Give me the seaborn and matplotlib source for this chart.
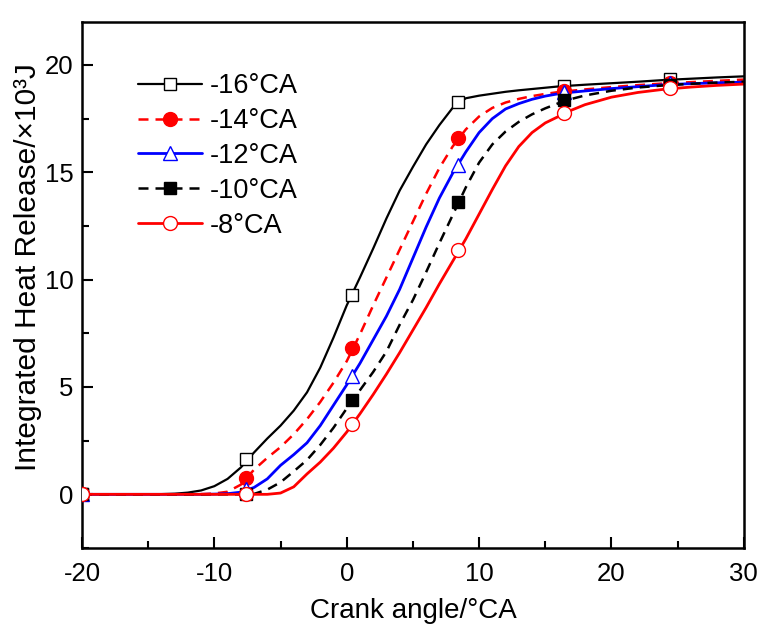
import matplotlib
matplotlib.use("Agg")
import matplotlib.pyplot as plt
from matplotlib.lines import Line2D
from matplotlib.ticker import MultipleLocator
import seaborn as sns
import pandas as pd

# ---------------- data ----------------
crank = [-20, -17, -14, -13, -12, -11, -10, -9, -8, -7, -6, -5, -4, -3, -2, -1,
         0, 1, 2, 3, 4, 5, 6, 7, 8, 9, 10, 11, 12, 13, 14, 15, 16, 17, 18,
         20, 22, 24, 26, 28, 30]

hr_m16 = [0, 0, 0.01, 0.03, 0.08, 0.18, 0.38, 0.72, 1.25, 1.95, 2.6, 3.2, 3.9, 4.75, 5.9, 7.3,
          8.8, 10.1, 11.45, 12.85, 14.15, 15.25, 16.3, 17.2, 18.0, 18.45, 18.57, 18.66, 18.75, 18.82, 18.88, 18.94, 19.0, 19.04, 19.08,
          19.15, 19.22, 19.3, 19.36, 19.42, 19.47]
hr_m14 = [0, 0, 0, 0, 0, 0.01, 0.04, 0.12, 0.45, 1.15, 1.7, 2.2, 2.8, 3.5, 4.3, 5.2,
          6.2, 7.45, 8.8, 10.1, 11.4, 12.7, 14.0, 15.2, 16.2, 17.0, 17.6, 18.0, 18.25, 18.42, 18.55, 18.65, 18.74, 18.8, 18.86,
          18.97, 19.06, 19.14, 19.2, 19.26, 19.32]
hr_m12 = [0, 0, 0, 0, 0, 0, 0.01, 0.03, 0.1, 0.32, 0.72, 1.35, 1.85, 2.4, 3.2, 4.15,
          5.1, 6.1, 7.2, 8.3, 9.55, 11.0, 12.45, 13.8, 14.95, 15.95, 16.85, 17.5, 17.95, 18.2, 18.4, 18.55, 18.66, 18.73, 18.79,
          18.9, 18.99, 19.08, 19.13, 19.17, 19.2]
hr_m10 = [0, 0, 0, 0, 0, 0, 0, 0, 0, 0.02, 0.22, 0.56, 1.07, 1.6, 2.3, 3.1,
          4.0, 4.85, 5.7, 6.65, 7.9, 9.05, 10.35, 11.7, 13.0, 14.3, 15.45, 16.3, 16.9, 17.35, 17.7, 17.98, 18.22, 18.42, 18.58,
          18.8, 18.95, 19.05, 19.12, 19.18, 19.22]
hr_m8 = [0, 0, 0, 0, 0, 0, 0, 0, 0, 0, 0, 0.06, 0.35, 0.95, 1.5, 2.15,
         2.9, 3.75, 4.65, 5.6, 6.6, 7.65, 8.7, 9.8, 10.85, 11.9, 13.05, 14.2, 15.3, 16.2, 16.85, 17.3, 17.6, 17.9, 18.15,
         18.5, 18.72, 18.87, 18.97, 19.05, 19.11]

# marker (symbol) positions
mark_x = [-20, -7.6, 0.4, 8.4, 16.4, 24.4]
mark_m16 = [0, 1.63, 9.3, 18.27, 19.03, 19.35]
mark_m14 = [0, 0.78, 6.81, 16.6, 18.8, 19.15]
mark_m12 = [0, 0.25, 5.5, 15.33, 18.72, 19.15]
mark_m10 = [0, 0.0, 4.38, 13.63, 18.38, 19.05]
mark_m8 = [0, 0.0, 3.26, 11.36, 17.75, 18.93]

labels = ["-16°CA", "-14°CA", "-12°CA", "-10°CA", "-8°CA"]
curves = [hr_m16, hr_m14, hr_m12, hr_m10, hr_m8]
marks = [mark_m16, mark_m14, mark_m12, mark_m10, mark_m8]

x_ticks = [-20, -10, 0, 10, 20, 30]
y_ticks = [0, 5, 10, 15, 20]

# ---------------- styling ----------------
sns.set_style("ticks")
plt.rcParams["font.family"] = ["Liberation Sans", "DejaVu Sans"]
plt.rcParams["axes.unicode_minus"] = False
plt.rcParams["text.color"] = "black"
plt.rcParams["axes.labelcolor"] = "black"
plt.rcParams["xtick.color"] = "black"
plt.rcParams["ytick.color"] = "black"

dash = (0, (4, 2.8))
styles = [
    dict(color="#000000", ls="-", lw=1.6, marker="s", mfc="white", mec="#000000", ms=8),
    dict(color="#ff0000", ls=dash, lw=1.8, marker="o", mfc="#ff0000", mec="#ff0000", ms=10),
    dict(color="#0000ff", ls="-", lw=2.0, marker="^", mfc="white", mec="#0000ff", ms=10),
    dict(color="#000000", ls=dash, lw=1.8, marker="s", mfc="#000000", mec="#000000", ms=8),
    dict(color="#ff0000", ls="-", lw=2.0, marker="o", mfc="white", mec="#ff0000", ms=10),
]

fig = plt.figure(figsize=(7.59, 6.26), dpi=100)
ax = fig.add_axes([0.108, 0.1246, 0.872, 0.8402])

handles = []
for lab, ys, ms_y, st in zip(labels, curves, marks, styles):
    df = pd.DataFrame({"x": crank, "y": ys})
    sns.lineplot(data=df, x="x", y="y", ax=ax, color=st["color"], lw=st["lw"],
                 linestyle=st["ls"], sort=False, legend=False)
    ax.plot(mark_x, ms_y, linestyle="none", marker=st["marker"], ms=st["ms"],
            mfc=st["mfc"], mec=st["mec"], mew=1.0, zorder=3)
    handles.append(Line2D([], [], color=st["color"], lw=st["lw"], linestyle=st["ls"],
                          marker=st["marker"], ms=st["ms"], mfc=st["mfc"],
                          mec=st["mec"], mew=1.0))

ax.set_xlim(-20, 30)
ax.set_ylim(-2.5, 22)
ax.set_xticks(x_ticks)
ax.set_yticks(y_ticks)
ax.xaxis.set_minor_locator(MultipleLocator(5))
ax.yaxis.set_minor_locator(MultipleLocator(2.5))
ax.tick_params(which="major", direction="in", length=8, width=1.5, labelsize=18.5,
               top=False, right=False)
ax.tick_params(which="minor", direction="in", length=5, width=1.5, top=False, right=False)
ax.tick_params(axis="x", pad=10)
ax.tick_params(axis="y", pad=6)
for sp in ax.spines.values():
    sp.set_visible(True)
    sp.set_linewidth(1.8)
    sp.set_color("black")

ax.set_xlabel("Crank angle/°CA", fontsize=20, labelpad=9)
ax.set_ylabel("Integrated Heat Release/×10³J", fontsize=21.5)
ax.yaxis.set_label_coords(-0.06, 0.535)

ax.legend(handles, labels, loc="upper left", bbox_to_anchor=(0.085, 0.903),
          frameon=False, fontsize=19.5, handlelength=2.35, handletextpad=0.3,
          labelspacing=0.33, borderpad=0, borderaxespad=0, numpoints=1)

fig.savefig("out.png", dpi=100)
